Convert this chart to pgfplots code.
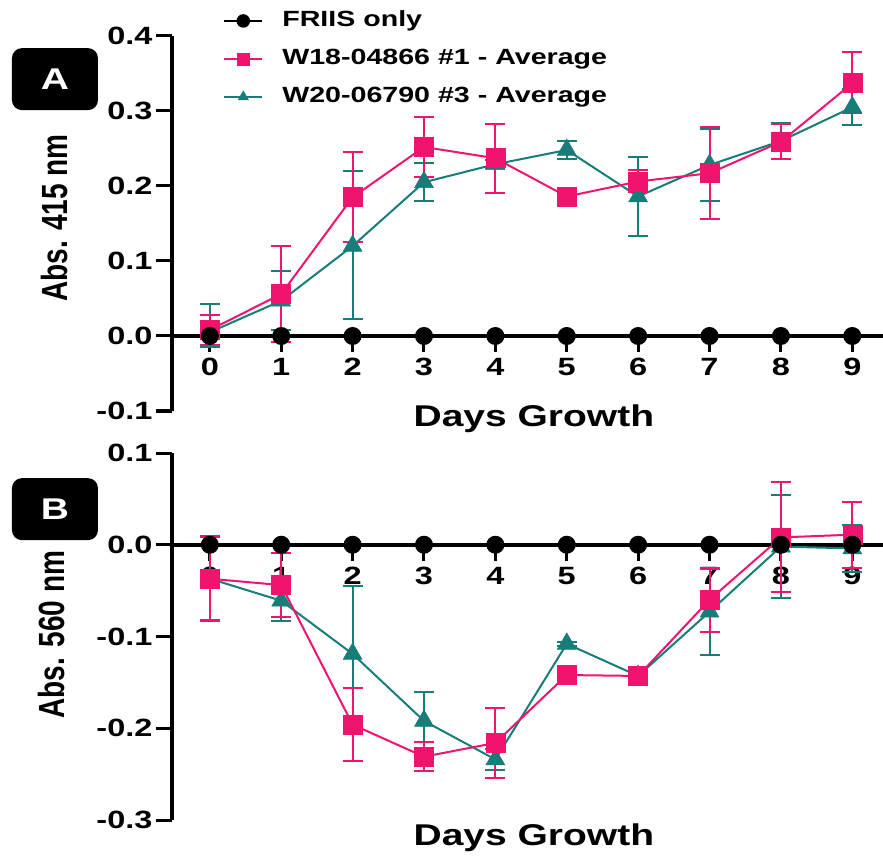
\documentclass[border=0pt]{standalone}
\usepackage{fontspec}
\setmainfont{Liberation Sans}[FakeStretch=1.3]
\newfontfamily\plainfont{Liberation Sans}
\usepackage{graphicx}
\usepackage{pgfplots}
\pgfplotsset{compat=1.18}
\definecolor{pinkc}{RGB}{240,20,110}
\definecolor{tealc}{RGB}{22,125,120}

\pgfplotstableread{
x y ep em
0 0.008 0.020 0.020
1 0.056 0.064 0.064
2 0.185 0.060 0.060
3 0.252 0.040 0.040
4 0.237 0.046 0.046
5 0.186 0.003 0.003
6 0.206 0.015 0.014
7 0.217 0.061 0.061
8 0.259 0.024 0.023
9 0.337 0.042 0.040
}\pinkA
\pgfplotstableread{
x y ep em
0 0.005 0.038 0.020
1 0.047 0.039 0.039
2 0.120 0.100 0.098
3 0.205 0.025 0.025
4 0.229 0.005 0.005
5 0.248 0.012 0.012
6 0.186 0.053 0.053
7 0.228 0.048 0.048
8 0.260 0.024 0.024
9 0.305 0.024 0.024
}\tealA
\pgfplotstableread{
x y ep em
0 -0.037 0.045 0.045
1 -0.044 0.035 0.035
2 -0.196 0.040 0.040
3 -0.231 0.016 0.016
4 -0.216 0.038 0.038
5 -0.142 0.010 0.010
6 -0.143 0.008 0.008
7 -0.060 0.035 0.035
8 0.008 0.060 0.060
9 0.011 0.036 0.036
}\pinkB
\pgfplotstableread{
x y ep em
0 -0.037 0.046 0.046
1 -0.061 0.022 0.022
2 -0.119 0.074 0.074
3 -0.192 0.032 0.032
4 -0.234 0.011 0.011
5 -0.108 0.002 0.002
6 -0.143 0.010 0.010
7 -0.073 0.047 0.047
8 -0.002 0.056 0.056
9 -0.004 0.026 0.026
}\tealB
\pgfplotstableread{
x y
0 0
1 0
2 0
3 0
4 0
5 0
6 0
7 0
8 0
9 0
}\friis

\pgfplotsset{
  panel/.style={
    scale only axis, width=711pt,
    xmin=-0.53, xmax=9.43,
    axis x line=middle, axis y line=left,
    x axis line style={-, line width=3.5pt},
    y axis line style={-, line width=3.5pt},
    xtick={0,...,9},
    tick style={line width=3pt, black},
    major tick length=16pt,
    tick align=outside,
    /pgf/number format/assume math mode=true,
    ticklabel style={font=\fontsize{25}{30}\selectfont\bfseries},
    yticklabel style={/pgf/number format/.cd, fixed, fixed zerofill, precision=1},
    xticklabel style={yshift=-3pt},
    clip=false,
    xlabel style={font=\fontsize{30}{36}\selectfont\bfseries, anchor=center},
    ylabel style={font=\plainfont\fontsize{28}{34}\selectfont\bfseries, anchor=center},
  },
  pinkstyle/.style={color=pinkc, line width=2pt, mark=square*, mark size=9.5pt,
    mark options={fill=pinkc, draw=pinkc, line width=0.5pt},
    error bars/.cd, y dir=both, y explicit,
    error bar style={line width=2pt},
    error mark options={rotate=90, line width=2pt, mark size=10pt}},
  tealstyle/.style={color=tealc, line width=2pt, mark=triangle*, mark size=11pt,
    mark options={fill=tealc, draw=tealc, line width=0.5pt},
    error bars/.cd, y dir=both, y explicit,
    error bar style={line width=2pt},
    error mark options={rotate=90, line width=2pt, mark size=10pt}},
  blackstyle/.style={color=black, line width=2pt, mark=*, mark size=8pt,
    mark options={fill=black, draw=black}},
}

\begin{document}
\begin{tikzpicture}
\path[use as bounding box] (-172pt,-448pt) rectangle (711pt,411pt);

\begin{axis}[panel, at={(0pt,0pt)}, anchor=south west, height=375pt,
  ymin=-0.1, ymax=0.4, ytick={-0.1,0,0.1,0.2,0.3,0.4},
  xlabel={Days Growth},
  xlabel style={at={(axis description cs:0.509,0)}, yshift=-8pt},
  ylabel={\scalebox{1}[1.3]{Abs. 415 nm}},
  ylabel style={at={(axis description cs:-0.165,0.515)}},
  reverse legend,
  legend style={at={(axis description cs:0.068,1.078)}, anchor=north west,
    draw=none, fill=none, font=\fontsize{22}{26}\selectfont\bfseries,
    nodes={inner sep=2pt, text height=16pt, text depth=4pt},
    row sep=14pt, column sep=0pt},
  legend cell align=left,
  legend image code/.code={\draw[mark repeat=2, mark phase=2, line width=1.5pt, mark size=6pt] plot coordinates {(0pt,0pt)(19pt,0pt)(38pt,0pt)};
    \path[draw=none] (38pt,0pt) -- (56pt,0pt);},
]
\addplot+[tealstyle] table[x=x, y=y, y error plus=ep, y error minus=em] {\tealA};
\addlegendentry{W20-06790 \#3 - Average}
\addplot+[pinkstyle] table[x=x, y=y, y error plus=ep, y error minus=em] {\pinkA};
\addlegendentry{W18-04866 \#1 - Average}
\addplot+[blackstyle] table[x=x, y=y] {\friis};
\addlegendentry{FRIIS only}
\node[fill=black, rounded corners=10pt, minimum width=86pt, minimum height=62pt,
  text=white, font=\fontsize{30}{30}\selectfont\bfseries]
  at (rel axis cs:-0.1646,0.885) {A};
\end{axis}

\begin{axis}[panel, at={(0pt,-409pt)}, anchor=south west, height=367pt,
  ymin=-0.3, ymax=0.1, ytick={-0.3,-0.2,-0.1,0,0.1},
  xlabel={Days Growth},
  xlabel style={at={(axis description cs:0.509,0)}, yshift=-18pt},
  ylabel={\scalebox{1}[1.3]{Abs. 560 nm}},
  ylabel style={at={(axis description cs:-0.170,0.505)}},
]
\addplot+[tealstyle] table[x=x, y=y, y error plus=ep, y error minus=em] {\tealB};
\addplot+[pinkstyle] table[x=x, y=y, y error plus=ep, y error minus=em] {\pinkB};
\addplot+[blackstyle] table[x=x, y=y] {\friis};
\node[fill=black, rounded corners=10pt, minimum width=86pt, minimum height=62pt,
  text=white, font=\fontsize{30}{30}\selectfont\bfseries]
  at (rel axis cs:-0.1646,0.847) {B};
\end{axis}
\end{tikzpicture}
\end{document}
